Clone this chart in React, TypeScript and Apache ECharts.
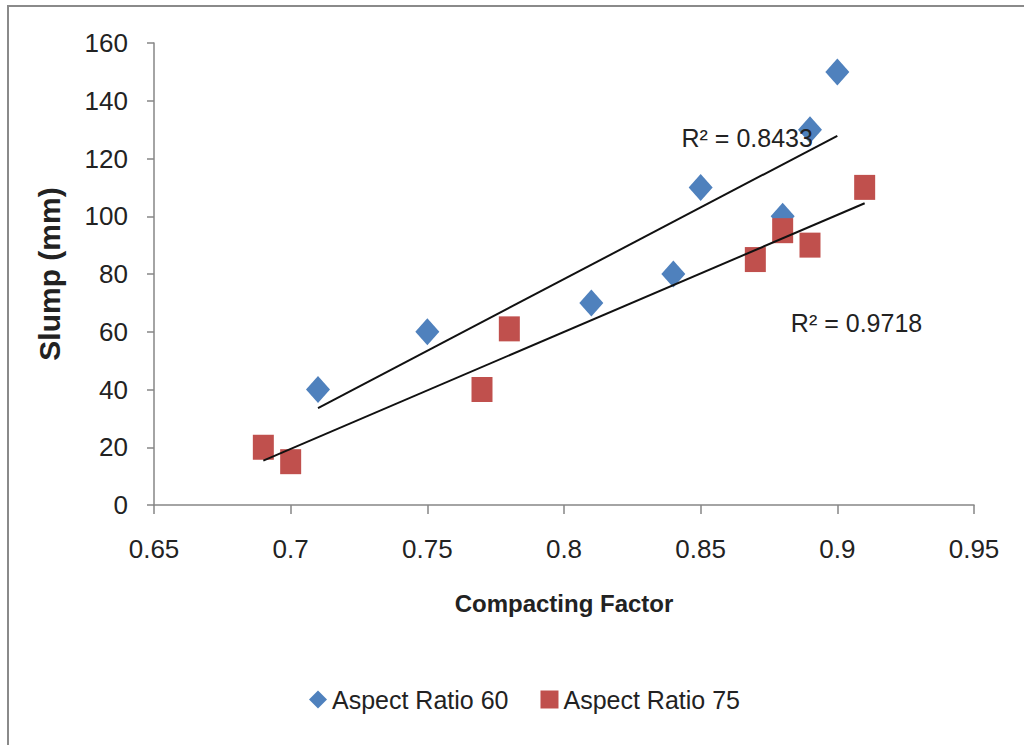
import React, { useEffect, useRef } from "react";
import * as echarts from "echarts";

const ar60X = [0.71, 0.75, 0.81, 0.84, 0.85, 0.88, 0.89, 0.9];
const ar60Y = [40, 60, 70, 80, 110, 100, 130, 150];
const ar75X = [0.69, 0.7, 0.77, 0.78, 0.87, 0.88, 0.89, 0.91];
const ar75Y = [20, 15, 40, 61, 85, 95, 90, 110];
const r2Labels = ["R² = 0.8433", "R² = 0.9718"];
const r2Pos60 = [0.843, 127];
const r2Pos75 = [0.883, 63];

function fit(xs: number[], ys: number[]) {
  const n = xs.length;
  const mx = xs.reduce((a, b) => a + b, 0) / n;
  const my = ys.reduce((a, b) => a + b, 0) / n;
  let sxy = 0, sxx = 0;
  for (let i = 0; i < n; i++) {
    sxy += (xs[i] - mx) * (ys[i] - my);
    sxx += (xs[i] - mx) * (xs[i] - mx);
  }
  const b = sxy / sxx;
  const a = my - b * mx;
  const x0 = Math.min(...xs);
  const x1 = Math.max(...xs);
  return [[x0, a + b * x0], [x1, a + b * x1]];
}

const FONT = "'Liberation Sans', sans-serif";

export default function App() {
  const ref = useRef<HTMLDivElement>(null);
  useEffect(() => {
    const chart = echarts.init(ref.current!, null, { renderer: "svg" });
    const pts60 = ar60X.map((x, i) => [x, ar60Y[i]]);
    const pts75 = ar75X.map((x, i) => [x, ar75Y[i]]);
    chart.setOption({
      animation: false,
      backgroundColor: "#ffffff",
      textStyle: { fontFamily: FONT },
      graphic: [
        {
          type: "rect",
          shape: { x: 8, y: 6, width: 1100, height: 900 },
          style: { fill: "none", stroke: "#8a8a8a", lineWidth: 2 },
          silent: true,
        },
      ],
      grid: { left: 154, right: 50, top: 43, bottom: 240 },
      legend: {
        left: 304,
        top: 682,
        itemWidth: 18,
        itemHeight: 18,
        itemGap: 32,
        data: [
          { name: "Aspect Ratio 60", icon: "diamond" },
          { name: "Aspect Ratio 75", icon: "rect" },
        ],
        textStyle: { fontFamily: FONT, fontSize: 25, color: "#222" },
      },
      xAxis: {
        type: "value",
        min: 0.65,
        max: 0.95,
        interval: 0.05,
        name: "Compacting Factor",
        nameLocation: "middle",
        nameGap: 86,
        nameTextStyle: { fontFamily: FONT, fontSize: 24, fontWeight: "bold", color: "#222" },
        splitLine: { show: false },
        axisLine: { show: true, lineStyle: { color: "#868686", width: 1.5 } },
        axisTick: { show: true, length: 9, lineStyle: { color: "#868686", width: 1.5 } },
        axisLabel: {
          fontFamily: FONT,
          fontSize: 26,
          color: "#222",
          margin: 31,
          formatter: (v: number) => String(parseFloat(v.toFixed(2))),
        },
      },
      yAxis: {
        type: "value",
        min: 0,
        max: 160,
        interval: 20,
        name: "Slump (mm)",
        nameLocation: "middle",
        nameGap: 90,
        nameTextStyle: { fontFamily: FONT, fontSize: 30, fontWeight: "bold", color: "#222" },
        splitLine: { show: false },
        axisLine: { show: true, lineStyle: { color: "#868686", width: 1.5 } },
        axisTick: { show: true, length: 7, lineStyle: { color: "#868686", width: 1.5 } },
        axisLabel: { fontFamily: FONT, fontSize: 26, color: "#222", margin: 26 },
      },
      series: [
        {
          name: "trend60",
          type: "line",
          data: fit(ar60X, ar60Y),
          symbol: "none",
          lineStyle: { color: "#111", width: 2 },
          z: 3,
          markPoint: {
            symbol: "circle",
            symbolSize: 0,
            data: [{ coord: r2Pos60 }],
            label: {
              show: true,
              position: "inside",
              align: "left",
              verticalAlign: "middle",
              formatter: r2Labels[0],
              fontFamily: FONT,
              fontSize: 25,
              color: "#222",
            },
          },
        },
        {
          name: "trend75",
          type: "line",
          data: fit(ar75X, ar75Y),
          symbol: "none",
          lineStyle: { color: "#111", width: 2 },
          z: 3,
          markPoint: {
            symbol: "circle",
            symbolSize: 0,
            data: [{ coord: r2Pos75 }],
            label: {
              show: true,
              position: "inside",
              align: "left",
              verticalAlign: "middle",
              formatter: r2Labels[1],
              fontFamily: FONT,
              fontSize: 25,
              color: "#222",
            },
          },
        },
        {
          name: "Aspect Ratio 60",
          type: "scatter",
          data: pts60,
          symbol: "diamond",
          symbolSize: [24, 27],
          itemStyle: { color: "#4F81BD", opacity: 1 },
          z: 2,
        },
        {
          name: "Aspect Ratio 75",
          type: "scatter",
          data: pts75,
          symbol: "rect",
          symbolSize: [21, 25],
          itemStyle: { color: "#C0504D", opacity: 1 },
          z: 2,
        },
      ],
    });
    return () => chart.dispose();
  }, []);
  return (
    <div
      ref={ref}
      style={{ position: "fixed", left: 0, top: 0, width: 1024, height: 745 }}
    />
  );
}
